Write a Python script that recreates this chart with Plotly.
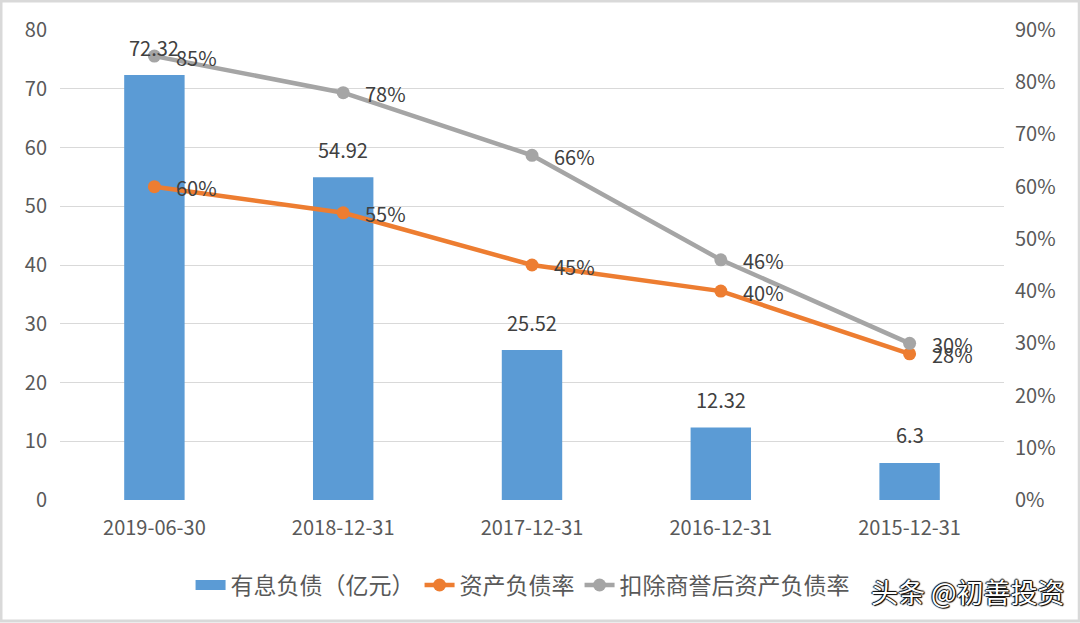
import plotly.graph_objects as go

categories = ["2019-06-30", "2018-12-31", "2017-12-31", "2016-12-31", "2015-12-31"]
debt = [72.32, 54.92, 25.52, 12.32, 6.3]
debt_labels = ["72.32", "54.92", "25.52", "12.32", "6.3"]
ratio = [0.60, 0.55, 0.45, 0.40, 0.28]
ratio_adj = [0.85, 0.78, 0.66, 0.46, 0.30]
left_ticks = [0, 10, 20, 30, 40, 50, 60, 70, 80]
right_ticks = [0, 0.1, 0.2, 0.3, 0.4, 0.5, 0.6, 0.7, 0.8, 0.9]

FONT = "Noto Sans CJK SC, Noto Sans, sans-serif"
TICK = "#595959"
LABEL = "#404040"
GRID = "#d9d9d9"
BLUE = "#5B9BD5"

fig = go.Figure()
fig.add_trace(go.Bar(
    x=categories, y=debt, name="有息负债（亿元）",
    marker=dict(color=BLUE, line=dict(width=0)),
    width=0.32, yaxis="y", showlegend=False,
))
# legend-only entry drawn as a wide block like the reference
fig.add_trace(go.Scatter(
    x=[None], y=[None], name="有息负债（亿元）", mode="lines",
    line=dict(color=BLUE, width=15), yaxis="y", hoverinfo="skip",
))
fig.add_trace(go.Scatter(
    x=categories, y=ratio, name="资产负债率", yaxis="y2",
    mode="lines+markers",
    line=dict(color="#ED7D31", width=4.5),
    marker=dict(color="#ED7D31", size=13),
))
fig.add_trace(go.Scatter(
    x=categories, y=ratio_adj, name="扣除商誉后资产负债率", yaxis="y2",
    mode="lines+markers",
    line=dict(color="#A5A5A5", width=4.5),
    marker=dict(color="#A5A5A5", size=13),
))

for c, v, t in zip(categories, debt, debt_labels):
    fig.add_annotation(x=c, y=v, yref="y", text=t, showarrow=False,
                       yshift=28, font=dict(family=FONT, size=20, color=LABEL))
for series in (ratio, ratio_adj):
    for c, v in zip(categories, series):
        fig.add_annotation(x=c, y=v, yref="y2", text=f"{round(v*100)}%",
                           showarrow=False, xanchor="left", xshift=20, yshift=-1,
                           font=dict(family=FONT, size=20, color=LABEL))

fig.add_annotation(xref="paper", yref="paper", x=1.067, y=-0.195, xanchor="right",
                   yanchor="middle", text="头条 @初善投资", showarrow=False,
                   font=dict(family=FONT, size=27, color="white",
                             shadow="1px 1px 1px #000, -1px 0px 1px #000, 0px -1px 1px #000, 1px 0px 1px #000"))

fig.add_shape(type="rect", xref="paper", yref="paper",
              x0=-0.0625, x1=1.0797, y0=-0.2574, y1=1.0617,
              line=dict(color="#d9d9d9", width=3), layer="below")

fig.update_layout(
    width=1080, height=623,
    margin=dict(l=60, r=76, t=30, b=123),
    paper_bgcolor="white", plot_bgcolor="white",
    font=dict(family=FONT, color=TICK, size=20),
    showlegend=True,
    legend=dict(orientation="h", x=0.49, y=-0.181, xanchor="center", yanchor="middle",
                font=dict(family=FONT, size=23, color=TICK),
                traceorder="normal"),
    xaxis=dict(type="category", showgrid=False, showline=False, ticks="",
               ticklabelstandoff=14,
               tickfont=dict(family=FONT, size=20, color=TICK)),
    yaxis=dict(range=[0, 80], tickvals=left_ticks, showgrid=True, gridcolor=GRID,
               gridwidth=1, zeroline=False, showline=False, ticks="",
               ticklabelstandoff=12,
               tickfont=dict(family=FONT, size=20, color=TICK)),
    yaxis2=dict(range=[0, 0.9], tickvals=right_ticks, tickformat=".0%",
                overlaying="y", side="right", showgrid=False, zeroline=False,
                showline=False, ticks="", ticklabelstandoff=10,
                tickfont=dict(family=FONT, size=20, color=TICK)),
)

fig.write_html("out.html")
